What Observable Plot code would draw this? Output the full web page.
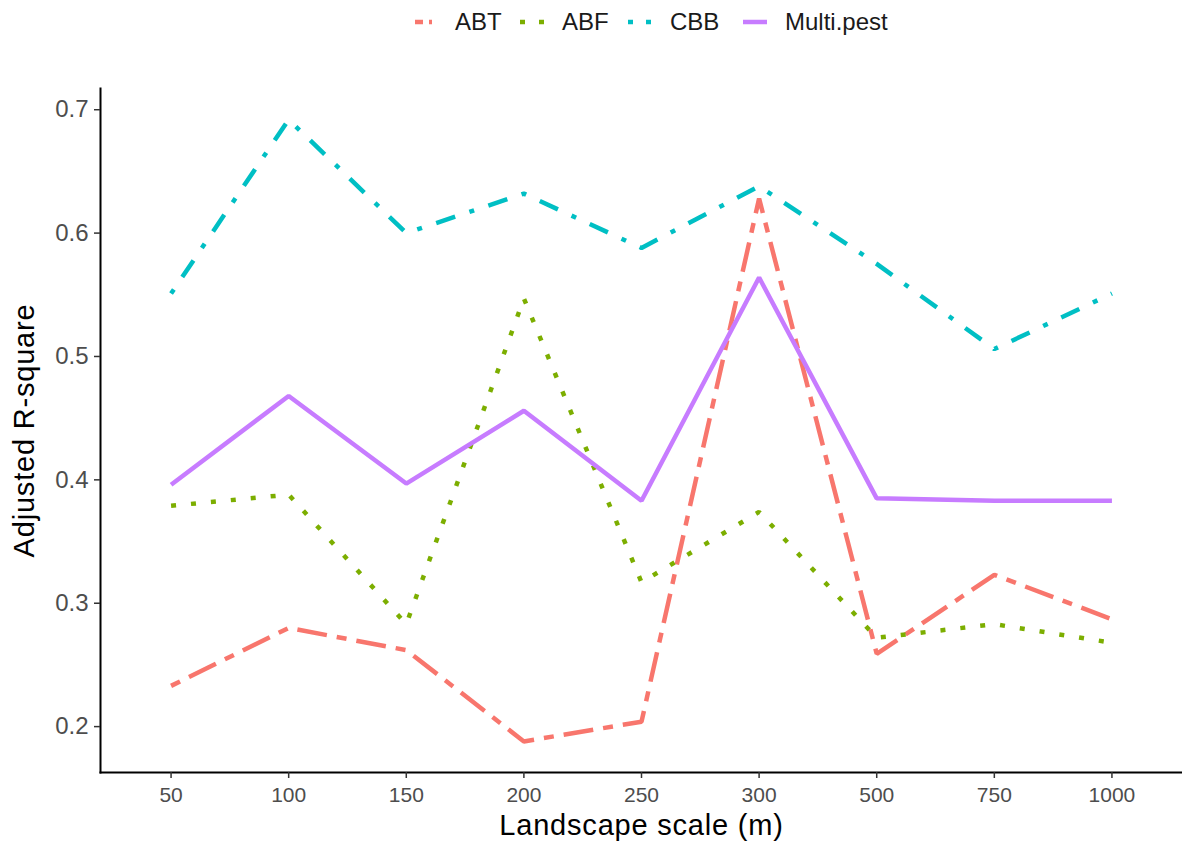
<!DOCTYPE html>
<html>
<head>
<meta charset="utf-8">
<script src="https://cdn.jsdelivr.net/npm/d3@7"></script>
<script src="https://cdn.jsdelivr.net/npm/@observablehq/plot@0.6"></script>
<style>
  body { margin: 0; background: #fff; font-family: "Liberation Sans", Arial, sans-serif; }
  #legend { position: relative; height: 50px; width: 1182px; }
  .key { position: absolute; top: 12px; }
  .lab { position: absolute; top: 9px; font-size: 24px; color: #1a1a1a; line-height: 26px; }
</style>
</head>
<body>
<div id="legend"></div>
<div id="chart"></div>
<script>
const scales = ["50", "100", "150", "200", "250", "300", "500", "750", "1000"];
const seriesNames = ["ABT", "ABF", "CBB", "Multi.pest"];
const ABT = [0.233, 0.280, 0.262, 0.188, 0.204, 0.628, 0.259, 0.323, 0.287];
const ABF = [0.379, 0.388, 0.283, 0.547, 0.317, 0.374, 0.272, 0.283, 0.268];
const CBB = [0.551, 0.692, 0.600, 0.632, 0.588, 0.638, 0.575, 0.506, 0.551];
const MultiPest = [0.396, 0.468, 0.397, 0.456, 0.383, 0.564, 0.385, 0.383, 0.383];
const yTicks = [0.2, 0.3, 0.4, 0.5, 0.6, 0.7];

const colors = {"ABT": "#F8766D", "ABF": "#7CAE00", "CBB": "#00BFC4", "Multi.pest": "#C77CFF"};
const u = 5;
const dashes = {
  "ABT": `${2*u},${2*u},${6*u},${2*u}`,
  "ABF": `${1*u},${3*u}`,
  "CBB": `${1*u},${3*u},${4*u},${3*u}`,
  "Multi.pest": "none"
};
const legendDashes = {"ABT": "8,6,3,30", "ABF": "5,14", "CBB": "5,13,5,30", "Multi.pest": "none"};
const valuesBy = {"ABT": ABT, "ABF": ABF, "CBB": CBB, "Multi.pest": MultiPest};
const rows = seriesNames.flatMap(s => scales.map((x, i) => ({series: s, scale: x, value: valuesBy[s][i]})));

const allVals = [...ABT, ...ABF, ...CBB, ...MultiPest];
const lo = d3.min(allVals), hi = d3.max(allVals);
const pad = (hi - lo) * 0.05;

// legend
const legend = document.getElementById("legend");
const keyLefts = [415, 520, 628, 743];
const labLefts = [455, 562, 670, 785];
seriesNames.forEach((s, i) => {
  const k = document.createElement("div");
  k.className = "key";
  k.style.left = keyLefts[i] + "px";
  k.innerHTML = `<svg width="24" height="20" style="display:block"><line x1="0" x2="24" y1="10" y2="10" stroke="${colors[s]}" stroke-width="4.5" stroke-dasharray="${legendDashes[s]}"/></svg>`;
  legend.appendChild(k);
  const l = document.createElement("div");
  l.className = "lab";
  l.style.left = labLefts[i] + "px";
  l.textContent = s;
  legend.appendChild(l);
});

const yFmt = d3.format(".1f");
const marks = [
  Plot.frame({anchor: "left", stroke: "#000", strokeWidth: 2}),
  Plot.frame({anchor: "bottom", stroke: "#000", strokeWidth: 2}),
  Plot.axisY({ticks: yTicks, tickFormat: yFmt, tickSize: 6, tickPadding: 6, fontSize: 24, fill: "#4d4d4d", stroke: "#333", strokeWidth: 1.5, label: null}),
  Plot.axisX({tickSize: 6, tickPadding: 9, fontSize: 21, fill: "#4d4d4d", stroke: "#333", strokeWidth: 1.5, label: null}),
  ...seriesNames.map(s => Plot.line(rows.filter(d => d.series === s), {
    x: "scale", y: "value", stroke: colors[s], strokeWidth: 4.5,
    strokeDasharray: dashes[s], strokeLinecap: "butt", strokeLinejoin: "miter"
  })),
  Plot.text(["Adjusted R-square"], {frameAnchor: "left", dx: -76, rotate: -90, textAnchor: "middle", fontSize: 29, fill: "#000"}),
  Plot.text(["Landscape scale (m)"], {frameAnchor: "bottom", dy: 62, textAnchor: "middle", fontSize: 29, fill: "#000"})
];

const chart = Plot.plot({
  width: 1182,
  height: 800,
  marginTop: 38,
  marginBottom: 78,
  marginLeft: 100,
  marginRight: 0,
  style: {fontFamily: "Liberation Sans, Arial, sans-serif", background: "#fff"},
  x: {type: "point", domain: scales, padding: 0.6, round: false},
  y: {domain: [lo - pad, hi + pad]},
  marks
});
document.getElementById("chart").appendChild(chart);

// enforce font sizes on tick labels and titles
const yLabels = new Set(yTicks.map(yFmt));
const xLabels = new Set(scales);
chart.querySelectorAll("text").forEach(el => {
  const t = el.textContent.trim();
  if (yLabels.has(t)) { el.style.fontSize = "24px"; el.style.fill = "#4d4d4d"; }
  else if (xLabels.has(t)) { el.style.fontSize = "21px"; el.style.fill = "#4d4d4d"; }
  else if (t === "Adjusted R-square" || t === "Landscape scale (m)") { el.style.letterSpacing = "0.8px"; }
});
</script>
</body>
</html>
